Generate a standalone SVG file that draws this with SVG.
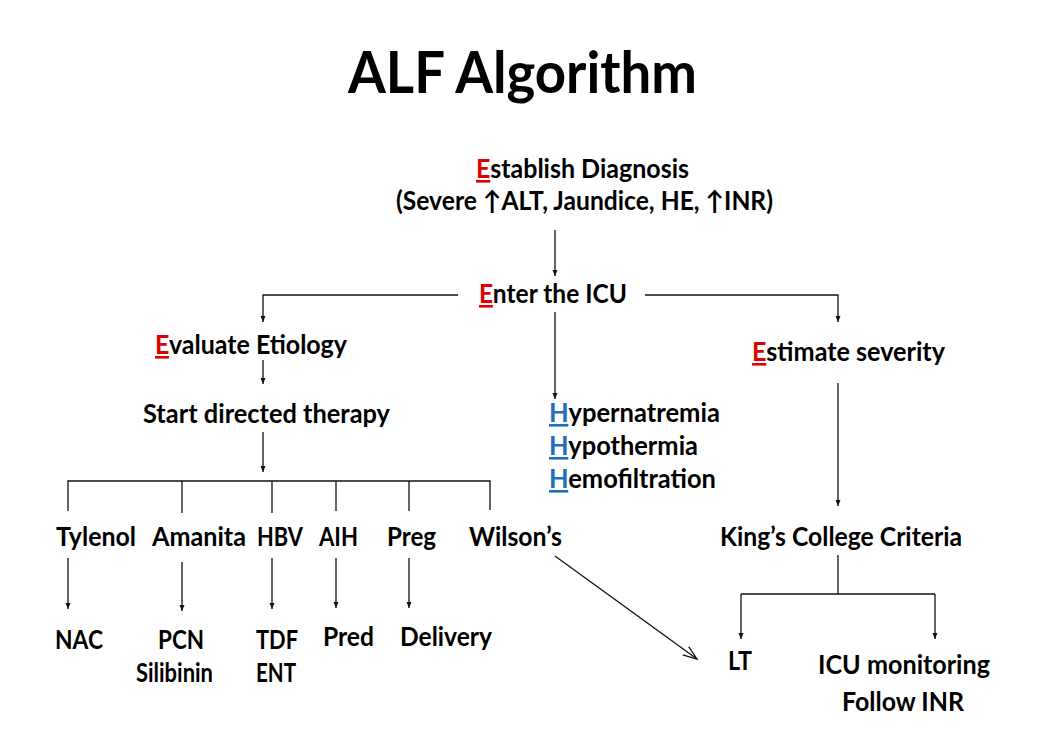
<svg xmlns="http://www.w3.org/2000/svg" width="1050" height="750" viewBox="0 0 1050 750">
<style>
text{font-family:Lato,"Open Sans","Liberation Sans",sans-serif;font-weight:bold;fill:#000;font-size:26px}
.t{font-size:58px}
.r{fill:#e00000;text-decoration:underline}
.b{fill:#1f6fc0;text-decoration:underline}
.c line,.c polyline{stroke:#111;stroke-width:1.3;fill:none}
</style>
<defs>
<marker id="a" markerUnits="userSpaceOnUse" markerWidth="8" markerHeight="8" refX="6" refY="4" orient="auto">
<path d="M0,1.5 L6,4 L0,6.5 Z" fill="#111"/>
</marker>
<marker id="o" markerUnits="userSpaceOnUse" markerWidth="16" markerHeight="14" refX="14" refY="7" orient="auto">
<path d="M0,2 L14,7 L0,12" fill="none" stroke="#111" stroke-width="1.3"/>
</marker>
</defs>
<rect width="1050" height="750" fill="#fff"/>
<g id="title"><text class="t" x="348" y="93" textLength="349" lengthAdjust="spacingAndGlyphs">ALF Algorithm</text></g>
<g id="diagnosis">
<text x="476" y="178" textLength="213" lengthAdjust="spacingAndGlyphs"><tspan class="r">E</tspan>stablish Diagnosis</text>
<text x="396" y="210" textLength="377" lengthAdjust="spacingAndGlyphs">(Severe ↑ALT, Jaundice, HE, ↑INR)</text>
</g>
<g id="icu"><text x="479" y="303" textLength="148" lengthAdjust="spacingAndGlyphs"><tspan class="r">E</tspan>nter the ICU</text></g>
<g id="etiology"><text x="155" y="354" textLength="192" lengthAdjust="spacingAndGlyphs"><tspan class="r">E</tspan>valuate Etiology</text></g>
<g id="therapy"><text x="143" y="423" textLength="247" lengthAdjust="spacingAndGlyphs">Start directed therapy</text></g>
<g id="hhh">
<text x="549" y="422" textLength="171" lengthAdjust="spacingAndGlyphs"><tspan class="b">H</tspan>ypernatremia</text>
<text x="549" y="455" textLength="149" lengthAdjust="spacingAndGlyphs"><tspan class="b">H</tspan>ypothermia</text>
<text x="549" y="488" textLength="167" lengthAdjust="spacingAndGlyphs"><tspan class="b">H</tspan>emofiltration</text>
</g>
<g id="severity"><text x="752" y="361" textLength="193" lengthAdjust="spacingAndGlyphs"><tspan class="r">E</tspan>stimate severity</text></g>
<g id="kings"><text x="720" y="546" textLength="242" lengthAdjust="spacingAndGlyphs">King’s College Criteria</text></g>
<g id="tylenol"><text x="56" y="546" textLength="80" lengthAdjust="spacingAndGlyphs">Tylenol</text></g>
<g id="amanita"><text x="152" y="546" textLength="94" lengthAdjust="spacingAndGlyphs">Amanita</text></g>
<g id="hbv"><text x="257" y="546" textLength="46" lengthAdjust="spacingAndGlyphs">HBV</text></g>
<g id="aih"><text x="319" y="546" textLength="39" lengthAdjust="spacingAndGlyphs">AIH</text></g>
<g id="preg"><text x="387" y="546" textLength="49" lengthAdjust="spacingAndGlyphs">Preg</text></g>
<g id="wilsons"><text x="469" y="546" textLength="93" lengthAdjust="spacingAndGlyphs">Wilson’s</text></g>
<g id="nac"><text x="55" y="649" textLength="48" lengthAdjust="spacingAndGlyphs">NAC</text></g>
<g id="pcn">
<text x="158" y="649" textLength="46" lengthAdjust="spacingAndGlyphs">PCN</text>
<text x="136" y="682" textLength="77" lengthAdjust="spacingAndGlyphs">Silibinin</text>
</g>
<g id="tdf">
<text x="256" y="649" textLength="42" lengthAdjust="spacingAndGlyphs">TDF</text>
<text x="256" y="682" textLength="40" lengthAdjust="spacingAndGlyphs">ENT</text>
</g>
<g id="pred"><text x="323" y="646" textLength="51" lengthAdjust="spacingAndGlyphs">Pred</text></g>
<g id="delivery"><text x="400" y="646" textLength="92" lengthAdjust="spacingAndGlyphs">Delivery</text></g>
<g id="lt"><text x="728" y="670" textLength="24" lengthAdjust="spacingAndGlyphs">LT</text></g>
<g id="monitoring">
<text x="818" y="674" textLength="172" lengthAdjust="spacingAndGlyphs">ICU monitoring</text>
<text x="842" y="711" textLength="122" lengthAdjust="spacingAndGlyphs">Follow INR</text>
</g>
<g id="connectors" class="c">
<line x1="555" y1="230" x2="555" y2="276" marker-end="url(#a)"/>
<polyline points="458,295 263,295 263,322" marker-end="url(#a)"/>
<polyline points="645,295 838,295 838,322" marker-end="url(#a)"/>
<line x1="555" y1="312" x2="555" y2="399" marker-end="url(#a)"/>
<line x1="263" y1="360" x2="263" y2="384" marker-end="url(#a)"/>
<line x1="263" y1="432" x2="263" y2="472" marker-end="url(#a)"/>
<polyline points="68,511 68,481 490,481 490,510"/>
<line x1="182" y1="481" x2="182" y2="513"/>
<line x1="272" y1="481" x2="272" y2="513"/>
<line x1="336" y1="481" x2="336" y2="511"/>
<line x1="409" y1="481" x2="409" y2="511"/>
<line x1="68" y1="558" x2="68" y2="609" marker-end="url(#a)"/>
<line x1="182" y1="562" x2="182" y2="611" marker-end="url(#a)"/>
<line x1="272" y1="558" x2="272" y2="609" marker-end="url(#a)"/>
<line x1="336" y1="558" x2="336" y2="608" marker-end="url(#a)"/>
<line x1="409" y1="558" x2="409" y2="608" marker-end="url(#a)"/>
<line x1="555" y1="556" x2="697" y2="659" marker-end="url(#o)"/>
<line x1="838" y1="383" x2="838" y2="506" marker-end="url(#a)"/>
<line x1="838" y1="555" x2="838" y2="594"/>
<line x1="741" y1="594" x2="935" y2="594"/>
<line x1="741" y1="594" x2="741" y2="639" marker-end="url(#a)"/>
<line x1="935" y1="594" x2="935" y2="639" marker-end="url(#a)"/>
</g>
</svg>
